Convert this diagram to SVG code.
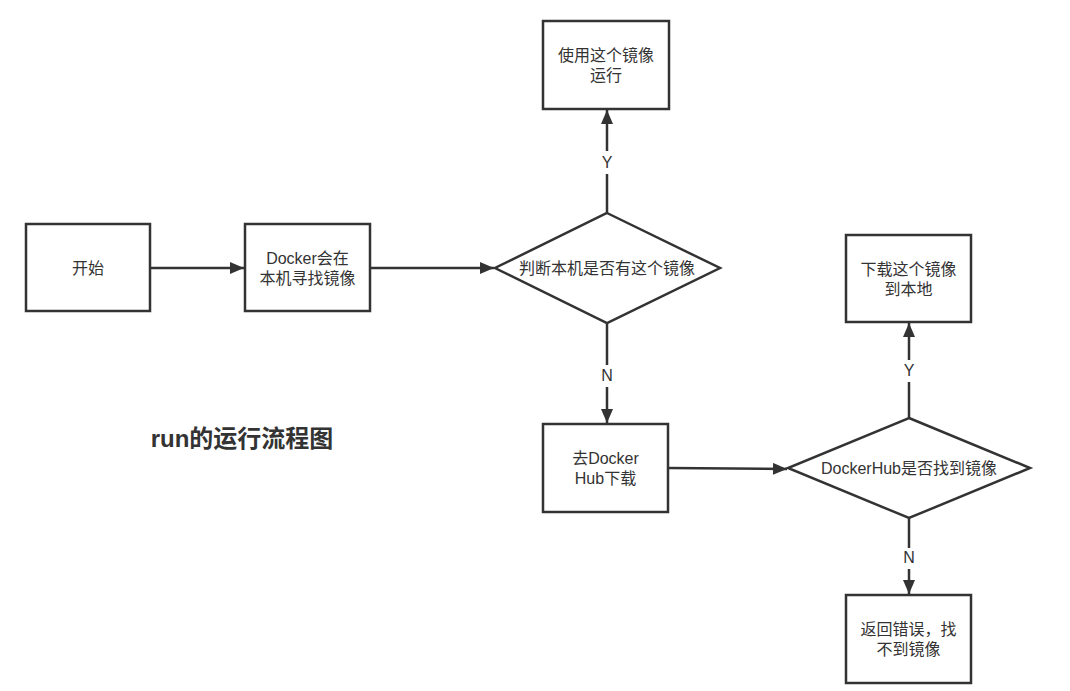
<svg xmlns="http://www.w3.org/2000/svg" width="1070" height="691" viewBox="0 0 1070 691">
<style>
.box{fill:#fff;stroke:#333;stroke-width:2.5}
.t{font-family:"Liberation Sans","Noto Sans CJK SC",sans-serif;font-size:16px;fill:#333;text-anchor:middle}
.lbl{font-family:"Liberation Sans","Noto Sans CJK SC",sans-serif;font-size:16px;fill:#333;text-anchor:middle}
.c{stroke:#333;stroke-width:2.5;fill:none}
.a{marker-end:url(#ah)}
</style>
<defs>
<marker id="ah" viewBox="0 0 14 12" refX="14" refY="6" markerWidth="14" markerHeight="12" orient="auto" markerUnits="userSpaceOnUse">
<path d="M0,0 L14,6 L0,12 Z" fill="#333"/>
</marker>
</defs>
<rect width="1070" height="691" fill="#fff"/>
<g id="connectors">
<line class="c a" x1="150" y1="268" x2="244" y2="268"/>
<line class="c a" x1="370" y1="268" x2="494" y2="268"/>
<line class="c" x1="607" y1="213" x2="607" y2="174"/>
<line class="c a" x1="607" y1="151" x2="607" y2="110"/>
<text class="lbl" x="607" y="168">Y</text>
<line class="c" x1="607" y1="323" x2="607" y2="365"/>
<line class="c a" x1="607" y1="387" x2="607" y2="423"/>
<text class="lbl" x="607" y="381">N</text>
<line class="c a" x1="668" y1="468" x2="787" y2="469"/>
<line class="c" x1="909" y1="418" x2="909" y2="382"/>
<line class="c a" x1="909" y1="360" x2="909" y2="323"/>
<text class="lbl" x="909" y="376">Y</text>
<line class="c" x1="909" y1="518" x2="909" y2="548"/>
<line class="c a" x1="909" y1="569" x2="909" y2="594"/>
<text class="lbl" x="909" y="563">N</text>
</g>
<g id="start"><rect class="box" x="26" y="224" width="124" height="87"/><text class="t" x="88" y="274">开始</text></g>
<g id="search"><rect class="box" x="245" y="224" width="125" height="87"/><text class="t" x="307.5" y="264">Docker会在</text><text class="t" x="307.5" y="284">本机寻找镜像</text></g>
<g id="check-local"><polygon class="box" points="607,213 720,268 607,323 495,268"/><text class="t" x="607" y="274">判断本机是否有这个镜像</text></g>
<g id="run"><rect class="box" x="543" y="21" width="126" height="88"/><text class="t" x="606" y="61">使用这个镜像</text><text class="t" x="606" y="81">运行</text></g>
<g id="hub"><rect class="box" x="543" y="424" width="125" height="88"/><text class="t" x="605.5" y="464">去Docker</text><text class="t" x="605.5" y="484">Hub下载</text></g>
<g id="check-hub"><polygon class="box" points="909,418 1030,468 909,518 788,468"/><text class="t" x="909" y="474">DockerHub是否找到镜像</text></g>
<g id="download"><rect class="box" x="846" y="235" width="125" height="87"/><text class="t" x="908.5" y="275">下载这个镜像</text><text class="t" x="908.5" y="295">到本地</text></g>
<g id="error"><rect class="box" x="846" y="595" width="125" height="88"/><text class="t" x="908.5" y="635">返回错误，找</text><text class="t" x="908.5" y="655">不到镜像</text></g>
<text x="242" y="447" font-family="'Liberation Sans','Noto Sans CJK SC',sans-serif" font-size="24" font-weight="bold" fill="#333" text-anchor="middle">run的运行流程图</text>
</svg>
